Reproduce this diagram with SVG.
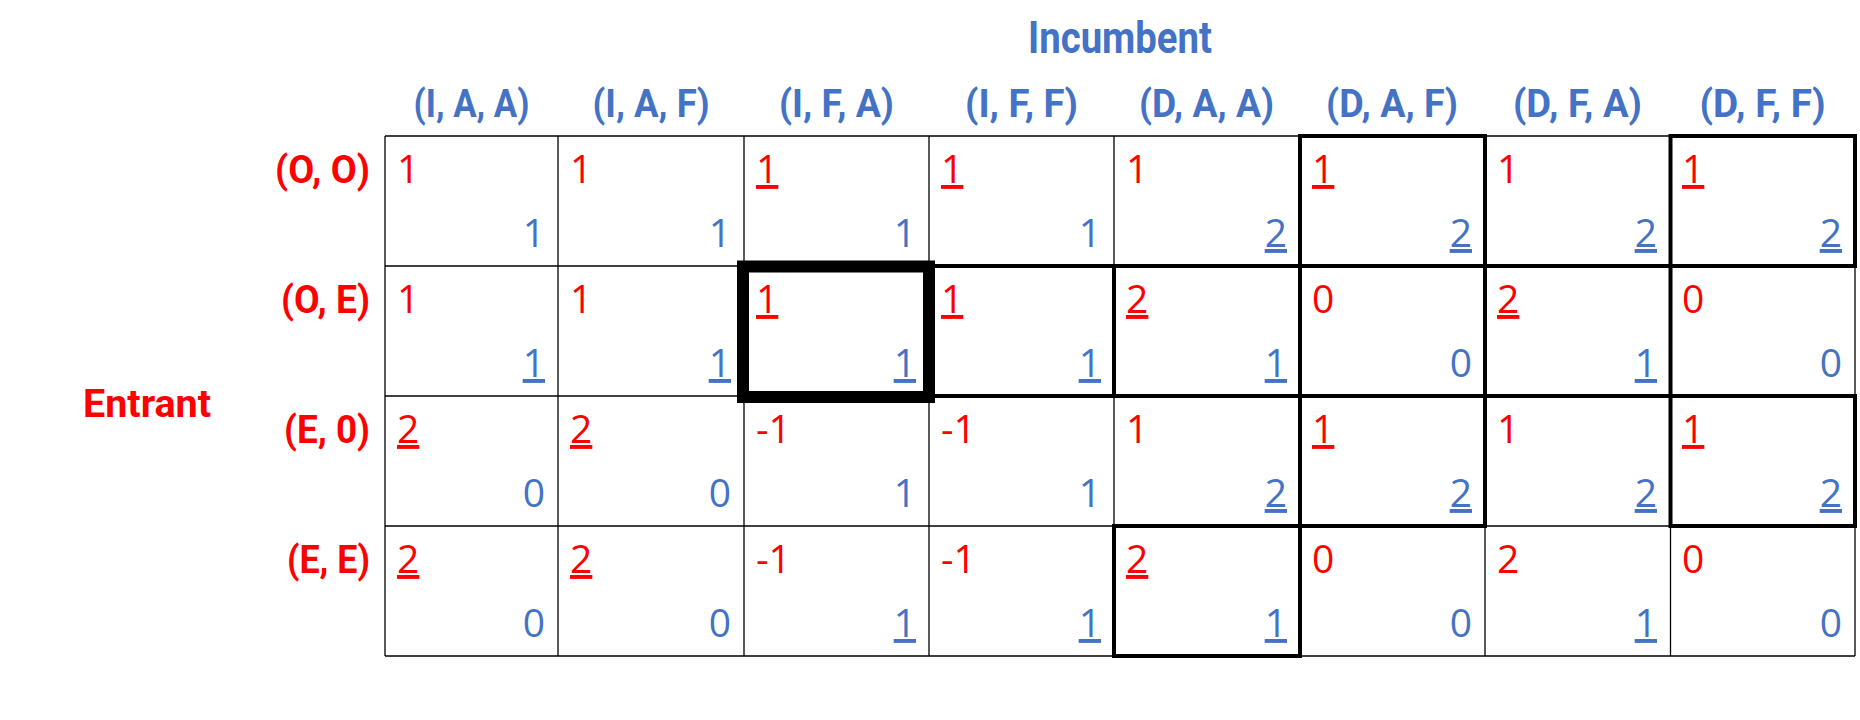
<svg xmlns="http://www.w3.org/2000/svg" width="1860" height="720" viewBox="0 0 1860 720">
<style>
.hd{font-family:"Roboto","Liberation Sans",sans-serif;font-weight:700;font-size:39px;fill:#4472C4;text-anchor:middle}
.ttl{font-family:"Roboto","Liberation Sans",sans-serif;font-weight:700;font-size:44px;fill:#4472C4;text-anchor:middle}
.rl{font-family:"Roboto","Liberation Sans",sans-serif;font-weight:700;font-size:39px;fill:#FF0000;text-anchor:end}
.ent{font-family:"Roboto","Liberation Sans",sans-serif;font-weight:700;font-size:39px;fill:#FF0000}
.r{font-family:"Open Sans","Liberation Sans",sans-serif;font-size:39px;fill:#FF0000}
.b{font-family:"Open Sans","Liberation Sans",sans-serif;font-size:39px;fill:#4472C4;text-anchor:end}
.u{text-decoration:underline}
.grid line{stroke:#000;stroke-width:1.3}
.box{fill:none;stroke:#000;stroke-width:4}
.nash{fill:none;stroke:#000;stroke-width:12}
</style>
<g id="title-incumbent"><text class="ttl" x="1120" y="53" textLength="184" lengthAdjust="spacingAndGlyphs">Incumbent</text></g>
<g id="title-entrant"><text class="ent" x="83" y="417" textLength="128" lengthAdjust="spacingAndGlyphs">Entrant</text></g>
<g id="col-headers">
<text class="hd" x="471.5" y="117" textLength="116" lengthAdjust="spacingAndGlyphs">(I, A, A)</text>
<text class="hd" x="651" y="117" textLength="117" lengthAdjust="spacingAndGlyphs">(I, A, F)</text>
<text class="hd" x="836.5" y="117" textLength="115" lengthAdjust="spacingAndGlyphs">(I, F, A)</text>
<text class="hd" x="1021.5" y="117" textLength="113" lengthAdjust="spacingAndGlyphs">(I, F, F)</text>
<text class="hd" x="1206.5" y="117" textLength="135" lengthAdjust="spacingAndGlyphs">(D, A, A)</text>
<text class="hd" x="1392" y="117" textLength="132" lengthAdjust="spacingAndGlyphs">(D, A, F)</text>
<text class="hd" x="1577.5" y="117" textLength="129" lengthAdjust="spacingAndGlyphs">(D, F, A)</text>
<text class="hd" x="1762.5" y="117" textLength="126" lengthAdjust="spacingAndGlyphs">(D, F, F)</text>
</g>
<g id="row-headers">
<text class="rl" x="370" y="183" textLength="95" lengthAdjust="spacingAndGlyphs">(O, O)</text>
<text class="rl" x="370" y="313" textLength="89" lengthAdjust="spacingAndGlyphs">(O, E)</text>
<text class="rl" x="370" y="443" textLength="86" lengthAdjust="spacingAndGlyphs">(E, 0)</text>
<text class="rl" x="370" y="573" textLength="83" lengthAdjust="spacingAndGlyphs">(E, E)</text>
</g>
<g class="grid" id="grid">
<line x1="385" y1="136" x2="1855" y2="136"/>
<line x1="385" y1="266" x2="1855" y2="266"/>
<line x1="385" y1="396" x2="1855" y2="396"/>
<line x1="385" y1="526" x2="1855" y2="526"/>
<line x1="385" y1="656" x2="1855" y2="656"/>
<line x1="385" y1="136" x2="385" y2="656"/>
<line x1="558" y1="136" x2="558" y2="656"/>
<line x1="744" y1="136" x2="744" y2="656"/>
<line x1="929" y1="136" x2="929" y2="656"/>
<line x1="1114" y1="136" x2="1114" y2="656"/>
<line x1="1300" y1="136" x2="1300" y2="656"/>
<line x1="1485" y1="136" x2="1485" y2="656"/>
<line x1="1670.5" y1="136" x2="1670.5" y2="656"/>
<line x1="1855" y1="136" x2="1855" y2="656"/>
</g>
<g id="connectors"></g>
<g id="row-OO">
<g id="c-0-0"><text class="r" x="397" y="183">1</text><text class="b" x="545" y="247">1</text></g>
<g id="c-0-1"><text class="r" x="570" y="183">1</text><text class="b" x="731" y="247">1</text></g>
<g id="c-0-2"><text class="r u" x="756" y="183">1</text><text class="b" x="916" y="247">1</text></g>
<g id="c-0-3"><text class="r u" x="941" y="183">1</text><text class="b" x="1101" y="247">1</text></g>
<g id="c-0-4"><text class="r" x="1126" y="183">1</text><text class="b u" x="1287" y="247">2</text></g>
<g id="c-0-5"><text class="r u" x="1312" y="183">1</text><text class="b u" x="1472" y="247">2</text></g>
<g id="c-0-6"><text class="r" x="1497" y="183">1</text><text class="b u" x="1657" y="247">2</text></g>
<g id="c-0-7"><text class="r u" x="1682" y="183">1</text><text class="b u" x="1842" y="247">2</text></g>
</g>
<g id="row-OE">
<g id="c-1-0"><text class="r" x="397" y="313">1</text><text class="b u" x="545" y="377">1</text></g>
<g id="c-1-1"><text class="r" x="570" y="313">1</text><text class="b u" x="731" y="377">1</text></g>
<g id="c-1-2"><text class="r u" x="756" y="313">1</text><text class="b u" x="916" y="377">1</text></g>
<g id="c-1-3"><text class="r u" x="941" y="313">1</text><text class="b u" x="1101" y="377">1</text></g>
<g id="c-1-4"><text class="r u" x="1126" y="313">2</text><text class="b u" x="1287" y="377">1</text></g>
<g id="c-1-5"><text class="r" x="1312" y="313">0</text><text class="b" x="1472" y="377">0</text></g>
<g id="c-1-6"><text class="r u" x="1497" y="313">2</text><text class="b u" x="1657" y="377">1</text></g>
<g id="c-1-7"><text class="r" x="1682" y="313">0</text><text class="b" x="1842" y="377">0</text></g>
</g>
<g id="row-E0">
<g id="c-2-0"><text class="r u" x="397" y="443">2</text><text class="b" x="545" y="507">0</text></g>
<g id="c-2-1"><text class="r u" x="570" y="443">2</text><text class="b" x="731" y="507">0</text></g>
<g id="c-2-2"><text class="r" x="756" y="443">-1</text><text class="b" x="916" y="507">1</text></g>
<g id="c-2-3"><text class="r" x="941" y="443">-1</text><text class="b" x="1101" y="507">1</text></g>
<g id="c-2-4"><text class="r" x="1126" y="443">1</text><text class="b u" x="1287" y="507">2</text></g>
<g id="c-2-5"><text class="r u" x="1312" y="443">1</text><text class="b u" x="1472" y="507">2</text></g>
<g id="c-2-6"><text class="r" x="1497" y="443">1</text><text class="b u" x="1657" y="507">2</text></g>
<g id="c-2-7"><text class="r u" x="1682" y="443">1</text><text class="b u" x="1842" y="507">2</text></g>
</g>
<g id="row-EE">
<g id="c-3-0"><text class="r u" x="397" y="573">2</text><text class="b" x="545" y="637">0</text></g>
<g id="c-3-1"><text class="r u" x="570" y="573">2</text><text class="b" x="731" y="637">0</text></g>
<g id="c-3-2"><text class="r" x="756" y="573">-1</text><text class="b u" x="916" y="637">1</text></g>
<g id="c-3-3"><text class="r" x="941" y="573">-1</text><text class="b u" x="1101" y="637">1</text></g>
<g id="c-3-4"><text class="r u" x="1126" y="573">2</text><text class="b u" x="1287" y="637">1</text></g>
<g id="c-3-5"><text class="r" x="1312" y="573">0</text><text class="b" x="1472" y="637">0</text></g>
<g id="c-3-6"><text class="r" x="1497" y="573">2</text><text class="b u" x="1657" y="637">1</text></g>
<g id="c-3-7"><text class="r" x="1682" y="573">0</text><text class="b" x="1842" y="637">0</text></g>
</g>
<g id="equilibrium-boxes">
<rect class="box" x="1300" y="136" width="185" height="130"/>
<rect class="box" x="1670.5" y="136" width="184.5" height="130"/>
<rect class="box" x="929" y="266" width="185" height="130"/>
<rect class="box" x="1114" y="266" width="186" height="130"/>
<rect class="box" x="1485" y="266" width="185.5" height="130"/>
<rect class="box" x="1300" y="396" width="185" height="130"/>
<rect class="box" x="1670.5" y="396" width="184.5" height="130"/>
<rect class="box" x="1114" y="526" width="186" height="130"/>
<rect class="nash" x="743" y="266.5" width="186" height="130.5"/>
</g>
</svg>
